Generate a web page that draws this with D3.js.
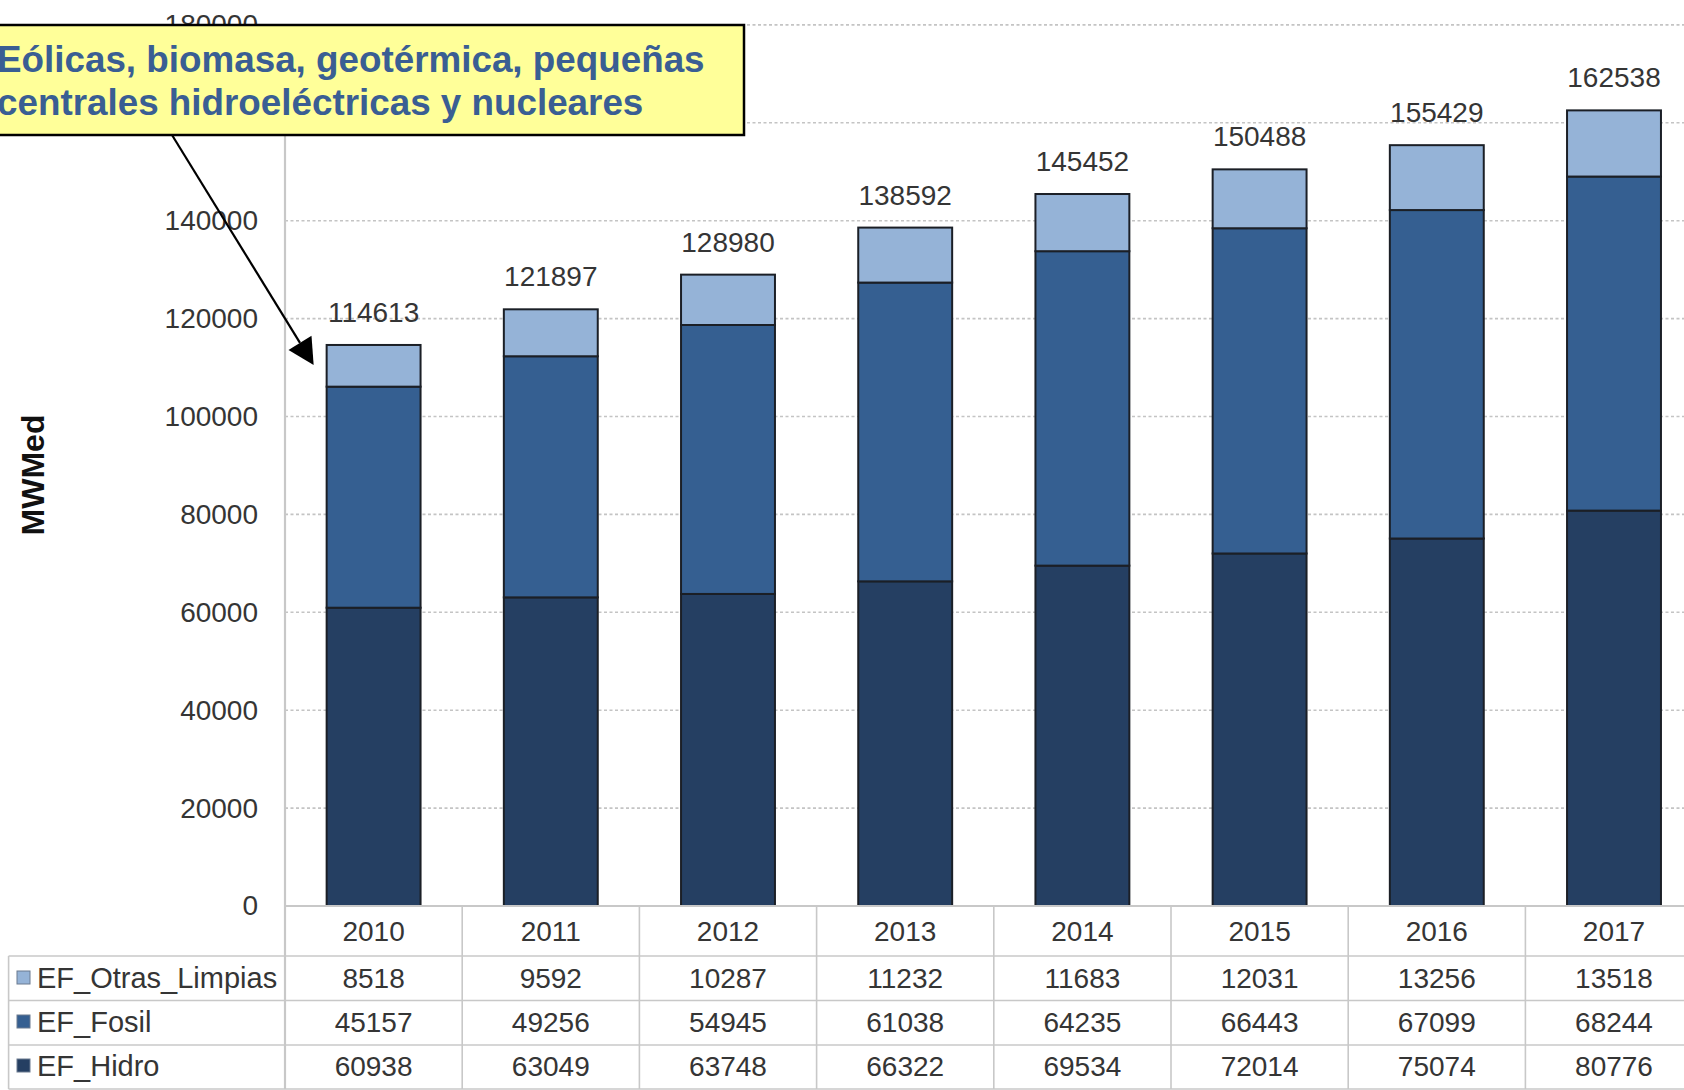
<!DOCTYPE html>
<html>
<head>
<meta charset="utf-8">
<script src="https://cdn.jsdelivr.net/npm/d3@7"></script>
<style>
  html, body { margin: 0; padding: 0; background: #ffffff; overflow: hidden; }
  svg { display: block; font-family: "Liberation Sans", Arial, sans-serif; }
</style>
</head>
<body>
<svg id="chart" width="1684" height="1090"></svg>
<script>
// Energía firme por tipo de fuente (MWMed), 2010–2017
const years = ["2010", "2011", "2012", "2013", "2014", "2015", "2016", "2017"];
const hidro = [60938, 63049, 63748, 66322, 69534, 72014, 75074, 80776];
const fosil = [45157, 49256, 54945, 61038, 64235, 66443, 67099, 68244];
const otras = [8518, 9592, 10287, 11232, 11683, 12031, 13256, 13518];
const totals = [114613, 121897, 128980, 138592, 145452, 150488, 155429, 162538];
const yTicks = [0, 20000, 40000, 60000, 80000, 100000, 120000, 140000, 160000, 180000];

// Series listed bottom-to-top of the stack; the table shows them top-to-bottom
const seriesKeys = ["EF_Hidro", "EF_Fosil", "EF_Otras_Limpias"];
const seriesValues = { EF_Hidro: hidro, EF_Fosil: fosil, EF_Otras_Limpias: otras };
const seriesColors = { EF_Hidro: "#253f62", EF_Fosil: "#355f91", EF_Otras_Limpias: "#95b3d7" };
const tableRows = ["EF_Otras_Limpias", "EF_Fosil", "EF_Hidro"];

const rows = years.map((yr, i) => {
  const r = { year: yr };
  seriesKeys.forEach(k => r[k] = seriesValues[k][i]);
  return r;
});

const svg = d3.select("#chart");
const W = 1684, H = 1090;
const plotLeft = 285, plotRight = 1702.6, plotTop = 24.9, plotBottom = 906;

const x = d3.scaleBand().domain(years).range([plotLeft, plotRight])
  .paddingInner(0.47).paddingOuter(0.235);
const y = d3.scaleLinear().domain([0, 180000]).range([plotBottom, plotTop]);

const textColor = "#353535";
const gridColor = "#c4c4c4";

// Dotted gridlines
svg.append("g")
  .selectAll("line")
  .data(yTicks.filter(t => t > 0))
  .join("line")
  .attr("x1", plotLeft).attr("x2", W)
  .attr("y1", d => y(d)).attr("y2", d => y(d))
  .attr("stroke", gridColor)
  .attr("stroke-width", 1.6)
  .attr("stroke-dasharray", "3,2.5");

// Y axis with tick labels
const yAxis = d3.axisLeft(y).tickValues(yTicks).tickSize(0).tickPadding(27)
  .tickFormat(d3.format("d"));
const gy = svg.append("g").attr("transform", `translate(${plotLeft},0)`).call(yAxis);
gy.select(".domain").remove();
gy.selectAll("text")
  .attr("font-family", "'Liberation Sans', Arial, sans-serif")
  .attr("font-size", 28)
  .attr("fill", textColor);

// Axis title
svg.append("text")
  .attr("transform", `translate(44,${475}) rotate(-90)`)
  .attr("text-anchor", "middle")
  .attr("font-size", 32)
  .attr("font-weight", "bold")
  .attr("fill", "#111")
  .text("MWMed");

// Stacked bars
const stacked = d3.stack().keys(seriesKeys)(rows);
const gBars = svg.append("g");
stacked.forEach(layer => {
  gBars.append("g")
    .selectAll("rect")
    .data(layer)
    .join("rect")
    .attr("x", d => x(d.data.year))
    .attr("width", x.bandwidth())
    .attr("y", d => y(d[1]))
    .attr("height", d => y(d[0]) - y(d[1]))
    .attr("fill", seriesColors[layer.key])
    .attr("stroke", "#1b1f26")
    .attr("stroke-width", 2);
});

// Totals above bars
svg.append("g")
  .selectAll("text")
  .data(years)
  .join("text")
  .attr("x", d => x(d) + x.bandwidth() / 2)
  .attr("y", (d, i) => y(totals[i]) - 23)
  .attr("text-anchor", "middle")
  .attr("font-size", 28)
  .attr("fill", textColor)
  .text((d, i) => totals[i]);

// Data table under the plot
const tableColor = "#c8c8c8";
const tableLeft = 8.6;
const rowLines = [956, 1000.5, 1045, 1089];
const rowCenters = [931, 978, 1022, 1066];
const gT = svg.append("g");

// Axis line at zero and y-axis line running down through the table
gT.append("line").attr("x1", plotLeft).attr("x2", W)
  .attr("y1", y(0)).attr("y2", y(0))
  .attr("stroke", tableColor).attr("stroke-width", 2);
gT.append("line").attr("x1", plotLeft).attr("x2", plotLeft)
  .attr("y1", plotTop).attr("y2", rowLines[3])
  .attr("stroke", tableColor).attr("stroke-width", 2.2);

// Column separators
gT.selectAll("line.col")
  .data(years.slice(1).concat(["end"]))
  .join("line")
  .attr("class", "col")
  .attr("x1", (d, i) => plotLeft + (i + 1) * x.step())
  .attr("x2", (d, i) => plotLeft + (i + 1) * x.step())
  .attr("y1", y(0)).attr("y2", rowLines[3])
  .attr("stroke", tableColor).attr("stroke-width", 1.6);

// Row separators
gT.selectAll("line.row")
  .data(rowLines)
  .join("line")
  .attr("class", "row")
  .attr("x1", tableLeft).attr("x2", W)
  .attr("y1", d => d).attr("y2", d => d)
  .attr("stroke", tableColor).attr("stroke-width", 1.6);
gT.append("line").attr("x1", tableLeft).attr("x2", tableLeft)
  .attr("y1", rowLines[0]).attr("y2", rowLines[3])
  .attr("stroke", tableColor).attr("stroke-width", 1.6);

// Category labels
gT.selectAll("text.year")
  .data(years)
  .join("text")
  .attr("class", "year")
  .attr("x", d => x(d) + x.bandwidth() / 2)
  .attr("y", rowCenters[0])
  .attr("dy", "0.35em")
  .attr("text-anchor", "middle")
  .attr("font-size", 28)
  .attr("fill", textColor)
  .text(d => d);

// Series rows: legend key + values
tableRows.forEach((key, r) => {
  const cy = rowCenters[r + 1];
  gT.append("rect")
    .attr("x", 17).attr("y", cy - 7)
    .attr("width", 13).attr("height", 13)
    .attr("fill", seriesColors[key])
    .attr("stroke", "#6b7b90").attr("stroke-width", 1);
  gT.append("text")
    .attr("x", 37).attr("y", cy).attr("dy", "0.35em")
    .attr("font-size", 29)
    .attr("fill", textColor)
    .text(key);
  gT.selectAll(null)
    .data(seriesValues[key])
    .join("text")
    .attr("x", (d, i) => x(years[i]) + x.bandwidth() / 2)
    .attr("y", cy).attr("dy", "0.35em")
    .attr("text-anchor", "middle")
    .attr("font-size", 28)
    .attr("fill", textColor)
    .text(d => d);
});

// Callout note with arrow to the first bar
const note = svg.append("g");
const tipX = x(years[0]) - 13, tipY = y(totals[0]) + 20;
const startX = 172, startY = 135;
const ang = Math.atan2(tipY - startY, tipX - startX);
const headLen = 26, headHalf = 13.5;
const baseX = tipX - headLen * Math.cos(ang), baseY = tipY - headLen * Math.sin(ang);
note.append("line")
  .attr("x1", startX).attr("y1", startY)
  .attr("x2", baseX).attr("y2", baseY)
  .attr("stroke", "#000").attr("stroke-width", 2.2);
note.append("path")
  .attr("d", d3.line()([
    [tipX, tipY],
    [baseX + headHalf * Math.sin(ang), baseY - headHalf * Math.cos(ang)],
    [baseX - headHalf * Math.sin(ang), baseY + headHalf * Math.cos(ang)]
  ]) + "Z")
  .attr("fill", "#000");

note.append("rect")
  .attr("x", -4).attr("y", 25)
  .attr("width", 748).attr("height", 110)
  .attr("fill", "#ffff99")
  .attr("stroke", "#000").attr("stroke-width", 2.5);
const noteLines = ["Eólicas, biomasa, geotérmica, pequeñas", "centrales hidroeléctricas y nucleares"];
note.selectAll("text")
  .data(noteLines)
  .join("text")
  .attr("x", -3)
  .attr("y", (d, i) => 72 + i * 43)
  .attr("font-size", 36.8)
  .attr("font-weight", "bold")
  .attr("fill", "#3a5e93")
  .text(d => d);
</script>
</body>
</html>
